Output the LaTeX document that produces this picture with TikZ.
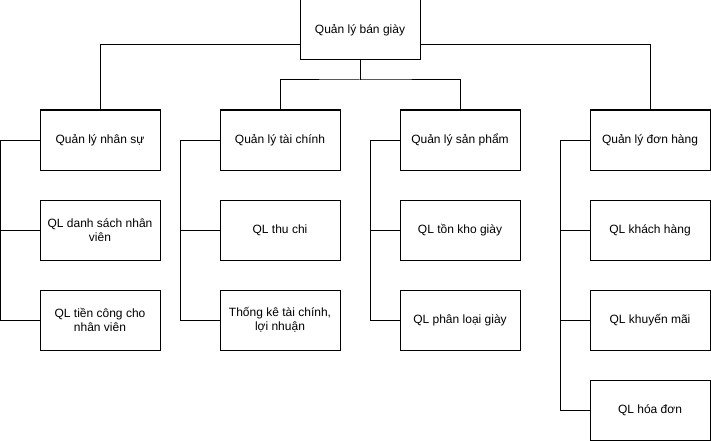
\documentclass[tikz,border=0pt]{standalone}
\usepackage{fontspec}
\setmainfont{Liberation Sans}
\begin{document}
\begin{tikzpicture}[x=1pt,y=-1pt,
  box/.style={draw=black,line width=1pt,fill=white,minimum width=120pt,minimum height=60pt,inner sep=2pt,align=center,font=\fontsize{12}{14.5}\selectfont},
  conn/.style={draw=black,line width=1pt}]
\useasboundingbox (0,0) rectangle (711,441);
\node[box] (root) at (360,30) {Quản lý bán giày};
\node[box] (b1) at (100,140) {Quản lý nhân sự};
\node[box] (b2) at (280,140) {Quản lý tài chính};
\node[box] (b3) at (460,140) {Quản lý sản phẩm};
\node[box] (b4) at (650,140) {Quản lý đơn hàng};
\node[box] (c11) at (100,230) {QL danh sách nhân\\viên};
\node[box] (c12) at (100,320) {QL tiền công cho\\nhân viên};
\node[box] (c21) at (280,230) {QL thu chi};
\node[box] (c22) at (280,320) {Thống kê tài chính,\\lợi nhuận};
\node[box] (c31) at (460,230) {QL tồn kho giày};
\node[box] (c32) at (460,320) {QL phân loại giày};
\node[box] (c41) at (650,230) {QL khách hàng};
\node[box] (c42) at (650,320) {QL khuyến mãi};
\node[box] (c43) at (650,410) {QL hóa đơn};
% root connectors
\draw[conn] ([yshift=-15pt]root.west) -| (b1.north);
\draw[conn] ([yshift=-15pt]root.east) -| (b4.north);
\coordinate (j) at (360,80);
\draw[conn] (root.south) -- (j);
\draw[conn] (b2.north) |- (j) -| (b3.north);
% branch connectors
\coordinate (l1) at (0.5,320);
\draw[conn] (b1.west) -| (l1) -- (c12.west);
\draw[conn] (c11.west) -- (c11.west -| l1);
\coordinate (l2) at (180,320);
\draw[conn] (b2.west) -| (l2) -- (c22.west);
\draw[conn] (c21.west) -- (c21.west -| l2);
\coordinate (l3) at (370,320);
\draw[conn] (b3.west) -| (l3) -- (c32.west);
\draw[conn] (c31.west) -- (c31.west -| l3);
\coordinate (l4) at (560,410);
\draw[conn] (b4.west) -| (l4) -- (c43.west);
\draw[conn] (c41.west) -- (c41.west -| l4);
\draw[conn] (c42.west) -- (c42.west -| l4);
\end{tikzpicture}
\end{document}
